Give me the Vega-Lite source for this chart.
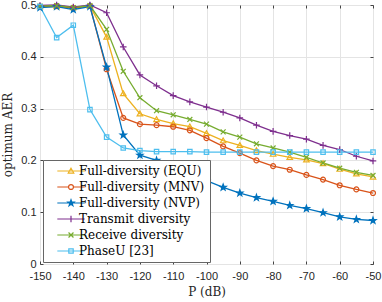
{
  "$schema": "https://vega.github.io/schema/vega-lite/v6.json",
  "autosize": {"type": "none"},
  "padding": {"left": 40, "top": 5, "right": 9, "bottom": 38},
  "width": 333,
  "height": 259,
  "data": {"values": [
    {"P": -150, "series": "Full-diversity (EQU)", "AER": 0.497},
    {"P": -145, "series": "Full-diversity (EQU)", "AER": 0.497},
    {"P": -140, "series": "Full-diversity (EQU)", "AER": 0.495},
    {"P": -135, "series": "Full-diversity (EQU)", "AER": 0.498},
    {"P": -130, "series": "Full-diversity (EQU)", "AER": 0.438},
    {"P": -125, "series": "Full-diversity (EQU)", "AER": 0.329},
    {"P": -120, "series": "Full-diversity (EQU)", "AER": 0.290},
    {"P": -115, "series": "Full-diversity (EQU)", "AER": 0.279},
    {"P": -110, "series": "Full-diversity (EQU)", "AER": 0.271},
    {"P": -105, "series": "Full-diversity (EQU)", "AER": 0.265},
    {"P": -100, "series": "Full-diversity (EQU)", "AER": 0.252},
    {"P": -95, "series": "Full-diversity (EQU)", "AER": 0.238},
    {"P": -90, "series": "Full-diversity (EQU)", "AER": 0.229},
    {"P": -85, "series": "Full-diversity (EQU)", "AER": 0.219},
    {"P": -80, "series": "Full-diversity (EQU)", "AER": 0.212},
    {"P": -75, "series": "Full-diversity (EQU)", "AER": 0.206},
    {"P": -70, "series": "Full-diversity (EQU)", "AER": 0.201},
    {"P": -65, "series": "Full-diversity (EQU)", "AER": 0.194},
    {"P": -60, "series": "Full-diversity (EQU)", "AER": 0.183},
    {"P": -55, "series": "Full-diversity (EQU)", "AER": 0.174},
    {"P": -50, "series": "Full-diversity (EQU)", "AER": 0.168},
    {"P": -150, "series": "Full-diversity (MNV)", "AER": 0.497},
    {"P": -145, "series": "Full-diversity (MNV)", "AER": 0.498},
    {"P": -140, "series": "Full-diversity (MNV)", "AER": 0.494},
    {"P": -135, "series": "Full-diversity (MNV)", "AER": 0.498},
    {"P": -130, "series": "Full-diversity (MNV)", "AER": 0.376},
    {"P": -125, "series": "Full-diversity (MNV)", "AER": 0.282},
    {"P": -120, "series": "Full-diversity (MNV)", "AER": 0.270},
    {"P": -115, "series": "Full-diversity (MNV)", "AER": 0.268},
    {"P": -110, "series": "Full-diversity (MNV)", "AER": 0.265},
    {"P": -105, "series": "Full-diversity (MNV)", "AER": 0.258},
    {"P": -100, "series": "Full-diversity (MNV)", "AER": 0.243},
    {"P": -95, "series": "Full-diversity (MNV)", "AER": 0.227},
    {"P": -90, "series": "Full-diversity (MNV)", "AER": 0.214},
    {"P": -85, "series": "Full-diversity (MNV)", "AER": 0.200},
    {"P": -80, "series": "Full-diversity (MNV)", "AER": 0.189},
    {"P": -75, "series": "Full-diversity (MNV)", "AER": 0.182},
    {"P": -70, "series": "Full-diversity (MNV)", "AER": 0.172},
    {"P": -65, "series": "Full-diversity (MNV)", "AER": 0.163},
    {"P": -60, "series": "Full-diversity (MNV)", "AER": 0.152},
    {"P": -55, "series": "Full-diversity (MNV)", "AER": 0.144},
    {"P": -50, "series": "Full-diversity (MNV)", "AER": 0.137},
    {"P": -150, "series": "Full-diversity (NVP)", "AER": 0.495},
    {"P": -145, "series": "Full-diversity (NVP)", "AER": 0.497},
    {"P": -140, "series": "Full-diversity (NVP)", "AER": 0.491},
    {"P": -135, "series": "Full-diversity (NVP)", "AER": 0.497},
    {"P": -130, "series": "Full-diversity (NVP)", "AER": 0.380},
    {"P": -125, "series": "Full-diversity (NVP)", "AER": 0.249},
    {"P": -120, "series": "Full-diversity (NVP)", "AER": 0.210},
    {"P": -115, "series": "Full-diversity (NVP)", "AER": 0.200},
    {"P": -110, "series": "Full-diversity (NVP)", "AER": 0.186},
    {"P": -105, "series": "Full-diversity (NVP)", "AER": 0.172},
    {"P": -100, "series": "Full-diversity (NVP)", "AER": 0.161},
    {"P": -95, "series": "Full-diversity (NVP)", "AER": 0.148},
    {"P": -90, "series": "Full-diversity (NVP)", "AER": 0.137},
    {"P": -85, "series": "Full-diversity (NVP)", "AER": 0.128},
    {"P": -80, "series": "Full-diversity (NVP)", "AER": 0.121},
    {"P": -75, "series": "Full-diversity (NVP)", "AER": 0.113},
    {"P": -70, "series": "Full-diversity (NVP)", "AER": 0.107},
    {"P": -65, "series": "Full-diversity (NVP)", "AER": 0.099},
    {"P": -60, "series": "Full-diversity (NVP)", "AER": 0.091},
    {"P": -55, "series": "Full-diversity (NVP)", "AER": 0.086},
    {"P": -50, "series": "Full-diversity (NVP)", "AER": 0.084},
    {"P": -150, "series": "Transmit diversity", "AER": 0.499},
    {"P": -145, "series": "Transmit diversity", "AER": 0.500},
    {"P": -140, "series": "Transmit diversity", "AER": 0.496},
    {"P": -135, "series": "Transmit diversity", "AER": 0.500},
    {"P": -130, "series": "Transmit diversity", "AER": 0.485},
    {"P": -125, "series": "Transmit diversity", "AER": 0.419},
    {"P": -120, "series": "Transmit diversity", "AER": 0.365},
    {"P": -115, "series": "Transmit diversity", "AER": 0.344},
    {"P": -110, "series": "Transmit diversity", "AER": 0.325},
    {"P": -105, "series": "Transmit diversity", "AER": 0.313},
    {"P": -100, "series": "Transmit diversity", "AER": 0.303},
    {"P": -95, "series": "Transmit diversity", "AER": 0.293},
    {"P": -90, "series": "Transmit diversity", "AER": 0.282},
    {"P": -85, "series": "Transmit diversity", "AER": 0.268},
    {"P": -80, "series": "Transmit diversity", "AER": 0.256},
    {"P": -75, "series": "Transmit diversity", "AER": 0.248},
    {"P": -70, "series": "Transmit diversity", "AER": 0.241},
    {"P": -65, "series": "Transmit diversity", "AER": 0.229},
    {"P": -60, "series": "Transmit diversity", "AER": 0.221},
    {"P": -55, "series": "Transmit diversity", "AER": 0.208},
    {"P": -50, "series": "Transmit diversity", "AER": 0.199},
    {"P": -150, "series": "Receive diversity", "AER": 0.498},
    {"P": -145, "series": "Receive diversity", "AER": 0.499},
    {"P": -140, "series": "Receive diversity", "AER": 0.495},
    {"P": -135, "series": "Receive diversity", "AER": 0.499},
    {"P": -130, "series": "Receive diversity", "AER": 0.453},
    {"P": -125, "series": "Receive diversity", "AER": 0.372},
    {"P": -120, "series": "Receive diversity", "AER": 0.321},
    {"P": -115, "series": "Receive diversity", "AER": 0.296},
    {"P": -110, "series": "Receive diversity", "AER": 0.288},
    {"P": -105, "series": "Receive diversity", "AER": 0.279},
    {"P": -100, "series": "Receive diversity", "AER": 0.270},
    {"P": -95, "series": "Receive diversity", "AER": 0.255},
    {"P": -90, "series": "Receive diversity", "AER": 0.245},
    {"P": -85, "series": "Receive diversity", "AER": 0.232},
    {"P": -80, "series": "Receive diversity", "AER": 0.224},
    {"P": -75, "series": "Receive diversity", "AER": 0.216},
    {"P": -70, "series": "Receive diversity", "AER": 0.206},
    {"P": -65, "series": "Receive diversity", "AER": 0.195},
    {"P": -60, "series": "Receive diversity", "AER": 0.185},
    {"P": -55, "series": "Receive diversity", "AER": 0.177},
    {"P": -50, "series": "Receive diversity", "AER": 0.171},
    {"P": -150, "series": "PhaseU [23]", "AER": 0.497},
    {"P": -145, "series": "PhaseU [23]", "AER": 0.437},
    {"P": -140, "series": "PhaseU [23]", "AER": 0.461},
    {"P": -135, "series": "PhaseU [23]", "AER": 0.298},
    {"P": -130, "series": "PhaseU [23]", "AER": 0.245},
    {"P": -125, "series": "PhaseU [23]", "AER": 0.224},
    {"P": -120, "series": "PhaseU [23]", "AER": 0.219},
    {"P": -115, "series": "PhaseU [23]", "AER": 0.217},
    {"P": -110, "series": "PhaseU [23]", "AER": 0.217},
    {"P": -105, "series": "PhaseU [23]", "AER": 0.217},
    {"P": -100, "series": "PhaseU [23]", "AER": 0.216},
    {"P": -95, "series": "PhaseU [23]", "AER": 0.216},
    {"P": -90, "series": "PhaseU [23]", "AER": 0.216},
    {"P": -85, "series": "PhaseU [23]", "AER": 0.216},
    {"P": -80, "series": "PhaseU [23]", "AER": 0.216},
    {"P": -75, "series": "PhaseU [23]", "AER": 0.216},
    {"P": -70, "series": "PhaseU [23]", "AER": 0.216},
    {"P": -65, "series": "PhaseU [23]", "AER": 0.216},
    {"P": -60, "series": "PhaseU [23]", "AER": 0.216},
    {"P": -55, "series": "PhaseU [23]", "AER": 0.216},
    {"P": -50, "series": "PhaseU [23]", "AER": 0.216}
  ]},
  "resolve": {"axis": {"x": "independent", "y": "independent"}, "scale": {"shape": "independent", "color": "independent"}},
  "layer": [
    {
      "mark": {"type": "line", "strokeWidth": 1.3},
      "encoding": {
        "x": {"field": "P", "type": "quantitative",
              "scale": {"domain": [-150, -50], "nice": false},
              "axis": {"values": [-150, -140, -130, -120, -110, -100, -90, -80, -70, -60, -50],
                       "labelExpr": "'' + datum.value", "labelOverlap": false, "labelFlush": false, "labelPadding": 9, "titlePadding": 5, "title": "P (dB)"}},
        "y": {"field": "AER", "type": "quantitative",
              "scale": {"domain": [0, 0.5], "nice": false, "zero": true},
              "axis": {"values": [0, 0.1, 0.2, 0.3, 0.4, 0.5], "format": ".1~f", "labelOverlap": false, "labelFlush": false, "title": "optimum AER"}},
        "color": {"field": "series", "type": "nominal", "legend": null,
                  "scale": {"domain": ["Full-diversity (EQU)", "Full-diversity (MNV)", "Full-diversity (NVP)", "Transmit diversity", "Receive diversity", "PhaseU [23]"],
                            "range": ["#EDB120", "#D95319", "#0072BD", "#7E2F8E", "#77AC30", "#4DBEEE"]}}
      }
    },
    {
      "mark": {"type": "point", "filled": false, "size": 30, "strokeWidth": 1.2, "opacity": 1},
      "encoding": {
        "x": {"field": "P", "type": "quantitative",
              "axis": {"orient": "top", "values": [-150, -140, -130, -120, -110, -100, -90, -80, -70, -60, -50],
                       "labels": false, "grid": false, "title": null}},
        "y": {"field": "AER", "type": "quantitative",
              "axis": {"orient": "right", "values": [0, 0.1, 0.2, 0.3, 0.4, 0.5], "labels": false, "grid": false, "title": null}},
        "color": {"field": "series", "type": "nominal", "legend": null,
                  "scale": {"domain": ["Full-diversity (EQU)", "Full-diversity (MNV)", "Full-diversity (NVP)", "Transmit diversity", "Receive diversity", "PhaseU [23]"],
                            "range": ["#EDB120", "#D95319", "#0072BD", "#7E2F8E", "#77AC30", "#4DBEEE"]}},
        "shape": {"field": "series", "type": "nominal", "legend": null,
                  "scale": {"domain": ["Full-diversity (EQU)", "Full-diversity (MNV)", "Full-diversity (NVP)", "Transmit diversity", "Receive diversity", "PhaseU [23]"],
                            "range": ["M0,-1L1,0.75L-1,0.75Z", "M-0.9,0A0.9,0.9 0 1,0 0.9,0A0.9,0.9 0 1,0 -0.9,0Z", "M0,-1.2L0.28,-0.39L1.14,-0.37L0.45,0.15L0.7,0.97L0,0.48L-0.7,0.97L-0.45,0.15L-1.14,-0.37L-0.28,-0.39Z", "M-1.2,0L1.2,0M0,-1.2L0,1.2", "M-0.9,-0.9L0.9,0.9M-0.9,0.9L0.9,-0.9", "M-0.8,-0.8L0.8,-0.8L0.8,0.8L-0.8,0.8Z"]}},
        "fill": {"condition": {"test": "datum.series === 'Full-diversity (NVP)'", "value": "#0072BD"}, "value": "transparent"}
      }
    },
    {
      "mark": {"type": "point", "filled": false, "size": 30, "strokeWidth": 1.2, "opacity": 0},
      "encoding": {
        "x": {"field": "P", "type": "quantitative", "axis": null},
        "y": {"field": "AER", "type": "quantitative", "axis": null},
        "color": {"field": "series", "type": "nominal",
                  "scale": {"domain": ["Full-diversity (EQU)", "Full-diversity (MNV)", "Full-diversity (NVP)", "Transmit diversity", "Receive diversity", "PhaseU [23]"],
                            "range": ["#EDB120", "#D95319", "#0072BD", "#7E2F8E", "#77AC30", "#4DBEEE"]},
                  "legend": {
                    "title": null, "orient": "none", "legendX": 3, "legendY": 155,
                    "strokeColor": "#666666", "fillColor": "white", "padding": 5,
                    "labelFont": "DejaVu Serif", "labelFontSize": 12, "labelColor": "#000000",
                    "symbolSize": 30, "symbolOffset": 17, "labelOffset": 2, "rowPadding": 4,
                    "symbolOpacity": 1, "symbolStrokeWidth": 1.2
                  }},
        "shape": {"field": "series", "type": "nominal",
                  "legend": {
                    "title": null, "orient": "none", "legendX": 3, "legendY": 155,
                    "strokeColor": "#666666", "fillColor": "white", "padding": 5,
                    "labelFont": "DejaVu Serif", "labelFontSize": 12, "labelColor": "#000000",
                    "symbolSize": 30, "symbolOffset": 17, "labelOffset": 2, "rowPadding": 4,
                    "symbolOpacity": 1, "symbolStrokeWidth": 1.2
                  },
                  "scale": {"domain": ["Full-diversity (EQU)", "Full-diversity (MNV)", "Full-diversity (NVP)", "Transmit diversity", "Receive diversity", "PhaseU [23]"],
                            "range": ["M-5,0L5,0M0,-1L1,0.75L-1,0.75Z", "M-5,0L-0.9,0M0.9,0L5,0M-0.9,0A0.9,0.9 0 1,0 0.9,0A0.9,0.9 0 1,0 -0.9,0Z", "M-5,0L5,0M0,-1.2L0.28,-0.39L1.14,-0.37L0.45,0.15L0.7,0.97L0,0.48L-0.7,0.97L-0.45,0.15L-1.14,-0.37L-0.28,-0.39ZM0,-0.6L0.14,-0.2L0.57,-0.18L0.22,0.08L0.35,0.48L0,0.24L-0.35,0.48L-0.22,0.08L-0.57,-0.18L-0.14,-0.2Z", "M-5,0L5,0M0,-1.2L0,1.2", "M-5,0L5,0M-0.9,-0.9L0.9,0.9M-0.9,0.9L0.9,-0.9", "M-5,0L5,0M-0.8,-0.8L0.8,-0.8L0.8,0.8L-0.8,0.8Z"]}}
      }
    }
  ],
  "config": {
    "view": {"stroke": "#555555", "strokeWidth": 1},
    "font": "Liberation Sans",
    "axis": {
      "grid": true, "gridColor": "#e4e4e4", "gridWidth": 1,
      "domain": false, "tickColor": "#444444", "tickSize": -3, "labelPadding": 7,
      "labelFont": "Liberation Sans", "labelFontSize": 11, "labelColor": "#262626",
      "titleFont": "DejaVu Serif", "titleFontSize": 12, "titleFontWeight": "normal", "titleColor": "#262626"
    },
    "axisY": {"titlePadding": 6}
  }
}
